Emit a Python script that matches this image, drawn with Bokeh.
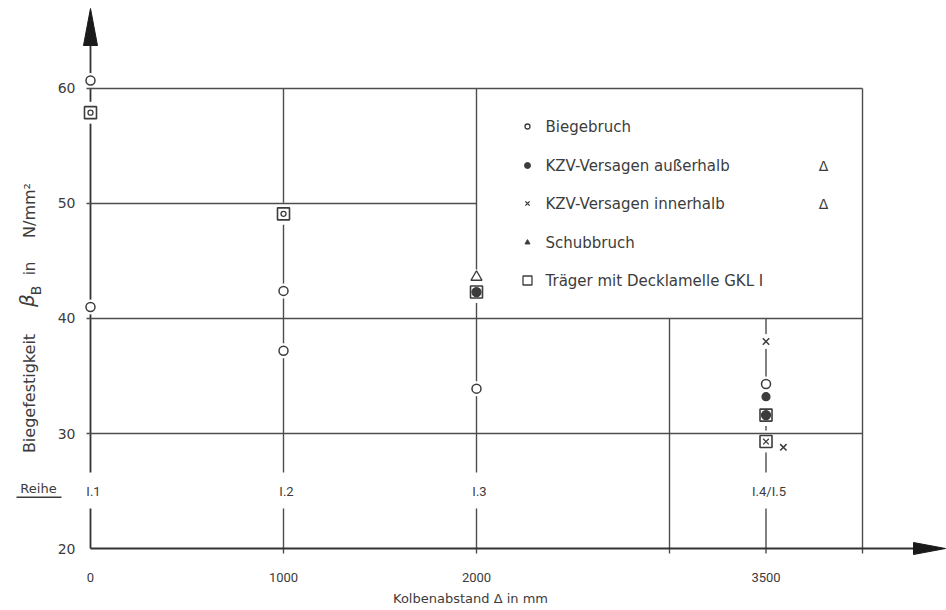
from bokeh.plotting import figure
from bokeh.models import Range1d, Label, BoxAnnotation
from bokeh.embed import file_html
from bokeh.resources import INLINE
from bokeh.core.properties import value

# Biegefestigkeit beta_B [N/mm²] über Kolbenabstand [mm], je Versagensart
biege_x = [0, 0, 1000, 1000, 2000, 3500]
biege_y = [60.7, 41.0, 42.4, 37.2, 33.9, 34.3]
kzv_aussen_x = [3500]
kzv_aussen_y = [33.2]
kzv_innen_x = [3500, 3590]
kzv_innen_y = [38.0, 28.8]
schub_x = [2000]
schub_y = [43.6]
# Träger mit Decklamelle: Quadrat, darin das Zeichen der Versagensart
deck_x = [0, 1000, 2000, 3500, 3500]
deck_y = [57.9, 49.1, 42.3, 31.6, 29.3]
deck_inner = ["o", "o", "dot", "dot", "x"]

x_ticks = [0, 1000, 2000, 3500]
x_tick_labels = ["0", "1000", "2000", "3500"]
y_ticks = [20, 30, 40, 50, 60]
y_tick_labels = ["20", "30", "40", "50", "60"]
reihe_x = [0, 1000, 2000, 3500]
reihe_labels = ["I.1", "I.2", "I.3", "I.4/I.5"]

# Rasterlinien: waagerecht (Höhe, Ende rechts), senkrecht (Lage, oberes Ende)
grid_h_y = [60, 50, 40, 30]
grid_h_end = [4000, 2000, 4000, 4000]
grid_v_x = [1000, 2000, 3000, 3500, 4000]
grid_v_top = [60, 60, 40, 40, 60]

legend_labels = ["Biegebruch", "KZV-Versagen außerhalb", "KZV-Versagen innerhalb",
                 "Schubbruch", "Träger mit Decklamelle  GKL I"]

W, H = 946, 610
X0, X1 = -466.3, 4435.2
Y0, Y1 = 14.61, 67.65
PX = (X1 - X0) / W     # Dateneinheiten je Pixel (x)
PY = (Y1 - Y0) / H     # Dateneinheiten je Pixel (y)


def sx(px):
    return X0 + px * PX


def sy(py):
    return Y1 - py * PY


INK = "#3c3c3c"
LINE = "#4d4d4d"
FONT_NAME = "DejaVu Sans"
FONT = value(FONT_NAME)

p = figure(width=W, height=H, x_range=Range1d(X0, X1), y_range=Range1d(Y0, Y1),
           output_backend="svg", toolbar_location=None, min_border=0,
           background_fill_color="white", border_fill_color="white",
           outline_line_color=None)
p.axis.visible = False
p.grid.visible = False

y_low = 20 - 5 * PY
# senkrechte Linien
p.segment(x0=grid_v_x, y0=[y_low] * len(grid_v_x), x1=grid_v_x, y1=grid_v_top,
          line_color=LINE, line_width=1.4)
# y-Achse mit Pfeil
arrow_base_y = sy(45)
p.segment(x0=[0], y0=[20], x1=[0], y1=[arrow_base_y], line_color="#333333", line_width=1.8)
p.patch([-7 * PX, 0, 7 * PX], [arrow_base_y, sy(8), arrow_base_y],
        fill_color="#1a1a1a", line_color="#1a1a1a")

# Aussparungen der Linien um die Messpunkte und die Reihen-Beschriftung
all_x = biege_x + kzv_aussen_x + kzv_innen_x + schub_x + deck_x
all_y = biege_y + kzv_aussen_y + kzv_innen_y + schub_y + deck_y
halo = [15] * (len(biege_x) + len(kzv_aussen_x) + len(kzv_innen_x) + len(schub_x)) + [22] * len(deck_x)
p.scatter(all_x, all_y, marker="circle", size=halo, fill_color="white", line_color=None)
p.rect(x=reihe_x, y=[sy(490)] * len(reihe_x), width=[22, 22, 22, 50], height=36,
       width_units="screen", height_units="screen", fill_color="white", line_color=None)

# waagerechte Linien
p.segment(x0=[-4 * PX] * len(grid_h_y), y0=grid_h_y, x1=grid_h_end, y1=grid_h_y,
          line_color=LINE, line_width=1.4)
# x-Achse mit Pfeil
arrow_base_x = sx(913)
p.segment(x0=[0], y0=[20], x1=[arrow_base_x], y1=[20], line_color="#333333", line_width=2.0)
p.patch([arrow_base_x, sx(945), arrow_base_x], [20 + 6 * PY, 20, 20 - 6 * PY],
        fill_color="#1a1a1a", line_color="#1a1a1a")

# Messpunkte
p.scatter(biege_x, biege_y, marker="circle", size=9, fill_color="white",
          line_color=INK, line_width=1.5)
p.scatter(kzv_aussen_x, kzv_aussen_y, marker="circle", size=8, fill_color=INK,
          line_color=INK, line_width=1.2)
p.scatter(kzv_innen_x, kzv_innen_y, marker="x", size=9, line_color=INK, line_width=1.5)
p.scatter(schub_x, schub_y, marker="triangle", size=11, fill_color="white",
          line_color=INK, line_width=1.4)
p.scatter(deck_x, deck_y, marker="square", size=12, fill_color="white",
          line_color=INK, line_width=1.6)
for kind, mk, sz, fill in (("o", "circle", 5, "white"), ("dot", "circle", 9, INK), ("x", "x", 8, None)):
    xs = [x for x, k in zip(deck_x, deck_inner) if k == kind]
    ys = [y for y, k in zip(deck_y, deck_inner) if k == kind]
    if fill is None:
        p.scatter(xs, ys, marker=mk, size=sz, line_color=INK, line_width=1.3)
    else:
        p.scatter(xs, ys, marker=mk, size=sz, fill_color=fill, line_color=INK, line_width=1.3)

# Achsbeschriftungen
p.text(x=x_ticks, y=[sy(577)] * len(x_ticks), text=x_tick_labels, text_font=value("Roboto"),
       text_font_size="13px", text_color=INK, text_align="center", text_baseline="middle")
p.text(x=[sx(75)] * len(y_ticks), y=y_ticks, text=y_tick_labels, text_font=FONT,
       text_font_size="14px", text_color=INK, text_align="right", text_baseline="middle")
p.text(x=[r + 3 * PX for r in reihe_x], y=[sy(491)] * len(reihe_x), text=reihe_labels,
       text_font=value("Roboto"), text_font_size="13px", text_color=INK,
       text_align="center", text_baseline="middle")

p.add_layout(Label(x=sx(38), y=sy(488), text="Reihe", text_font=FONT_NAME, text_font_size="13px",
                   text_color=INK, text_align="center", text_baseline="middle"))
p.add_layout(BoxAnnotation(left=sx(16), right=sx(61), bottom=sy(497.5), top=sy(496),
                           fill_color=INK, fill_alpha=1, line_color=None))

p.add_layout(Label(x=sx(470), y=sy(598), text="Kolbenabstand Δ in mm", text_font=FONT_NAME,
                   text_font_size="13px", text_color=INK, text_align="center",
                   text_baseline="middle"))

# y-Achsentitel: Biegefestigkeit beta_B in N/mm²
for txt, cx, cy, fs, style in (("Biegefestigkeit", 29, 393, "16px", "normal"),
                               ("β", 26, 300, "20px", "italic"),
                               ("B", 35, 290, "14px", "normal"),
                               ("in", 29, 268, "15px", "normal"),
                               ("N/mm²", 29, 210, "16px", "normal")):
    p.add_layout(Label(x=sx(cx), y=sy(cy), text=txt, text_font=FONT_NAME, text_font_size=fs,
                       text_font_style=style, text_color=INK, angle=90, angle_units="deg",
                       text_align="center", text_baseline="middle"))

# Legende
rows = [126, 165, 203, 242, 280]
lx = sx(527)
p.scatter([lx], [sy(rows[0])], marker="circle", size=5, fill_color="white", line_color=INK, line_width=1.3)
p.scatter([lx], [sy(rows[1])], marker="circle", size=6, fill_color=INK, line_color=INK)
p.scatter([lx], [sy(rows[2])], marker="x", size=6, line_color=INK, line_width=1.3)
p.scatter([lx], [sy(rows[3])], marker="triangle", size=5, fill_color=INK, line_color=INK)
p.scatter([lx], [sy(rows[4])], marker="square", size=9, fill_color="white", line_color=INK, line_width=1.3)
p.text(x=[sx(545)] * len(rows), y=[sy(r) for r in rows], text=legend_labels, text_font=FONT,
       text_font_size="15px", text_color=INK, text_align="left", text_baseline="middle")
p.text(x=[sx(823)] * 2, y=[sy(rows[1]), sy(rows[2])], text=["Δ", "Δ"], text_font=FONT,
       text_font_size="14px", text_color=INK, text_align="center", text_baseline="middle")

open("out.html", "w").write(file_html(p, INLINE))
